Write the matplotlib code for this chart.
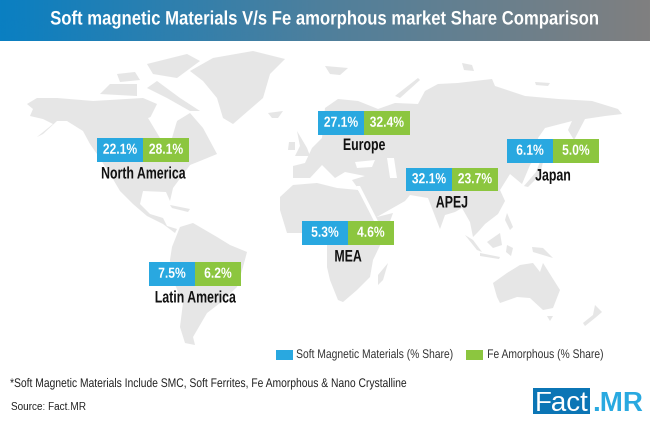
import numpy as np
import matplotlib
matplotlib.use('Agg')
import matplotlib.pyplot as plt
from matplotlib.colors import LinearSegmentedColormap
from matplotlib.patches import Polygon, Rectangle
from matplotlib.patheffects import AbstractPathEffect
from matplotlib.transforms import Affine2D

regions = ['North America', 'Europe', 'Japan', 'APEJ', 'MEA', 'Latin America']
soft_share = [22.1, 27.1, 6.1, 32.1, 5.3, 7.5]
fe_share = [28.1, 32.4, 5.0, 23.7, 4.6, 6.2]
title = 'Soft magnetic Materials V/s Fe amorphous market Share Comparison'
legend_labels = ['Soft Magnetic Materials (% Share)', 'Fe Amorphous (% Share)']
footnote = '*Soft Magnetic Materials Include SMC, Soft Ferrites, Fe Amorphous & Nano Crystalline'
source = 'Source: Fact.MR'

# left edge and top of each pair of tiles, then y of the region name
tile_x = [97, 318, 507, 406, 302, 149]
tile_y = [138, 111, 139, 167.5, 221, 262]
name_y = [174, 145.5, 176, 203, 257, 298]
tile_w = 46
tile_h = 23.5

BLUE = '#29a8e0'
GREEN = '#8cc63f'
LAND = '#e6e6e6'
FONT = 'Liberation Sans'

# backdrop map, rough outlines in picture pixels
land = [
    # north america
    [(27,104),(37,98),(57,98),(93,101),(110,100),(143,98),(157,104),(150,118),(165,138),(177,121),
     (190,113),(203,128),(217,154),(200,161),(190,165),(173,188),(170,201),(166,192),(143,191),
     (140,204),(150,214),(163,218),(167,226),(177,229),(175,233),(163,224),(147,216),(133,204),
     (120,191),(110,174),(97,154),(90,144),(83,131),(67,121),(57,121),(43,134),(37,137),(53,124),
     (43,119),(30,116),(33,109)],
    [(157,81),(180,98),(200,111),(190,111),(167,98),(147,88)],
    [(147,64),(187,54),(200,61),(177,78),(153,74)],
    [(110,84),(137,84),(137,96),(100,94)],
    [(117,74),(135,72),(140,80),(120,82)],
    # greenland, iceland
    [(190,71),(213,58),(253,51),(285,59),(270,74),(263,98),(233,124),(223,118),(217,98),(203,81)],
    [(268,113),(283,111),(278,118),(272,118)],
    # south america
    [(172,247),(180,227),(193,223),(217,237),(230,245),(247,252),(243,267),(237,287),(220,303),
     (207,313),(193,337),(195,345),(185,343),(180,327),(183,303),(173,280),(170,260)],
    # africa
    [(280,210),(280,197),(293,185),(317,183),(337,188),(358,190),(377,217),(393,213),(385,235),
     (373,260),(370,277),(357,290),(343,302),(338,300),(330,280),(327,267),(327,243),(303,233),
     (287,233)],
    [(388,263),(383,280),(378,285),(378,275)],
    # eurasia
    [(293,166),(305,163),(312,148),(322,138),(325,108),(338,99),(358,101),(378,109),(395,103),
     (418,104),(425,91),(438,84),(458,83),(492,79),(495,86),(525,96),(558,99),(592,101),(618,109),
     (622,114),(605,116),(585,119),(574,140),(568,130),(572,121),(545,128),(538,138),(540,150),
     (530,165),(522,184),(510,174),(500,190),(505,201),(498,214),(485,224),(478,232),(473,237),
     (470,222),(462,208),(455,212),(445,215),(440,229),(428,198),(410,195),(405,201),(375,218),
     (362,194),(352,180),(365,176),(345,172),(335,178),(322,165),(310,178),(293,178)],
    [(297,131),(307,148),(310,156),(295,156),(300,146)],
    [(289,142),(295,142),(295,150),(288,150)],
    [(325,66),(348,68),(340,75),(330,74)],
    [(395,96),(418,78),(420,80),(400,98)],
    [(462,63),(472,65),(474,71),(464,70)],
    [(535,82),(550,83),(548,86),(536,85)],
    [(524,186),(536,172),(540,162),(543,162),(540,175),(528,187)],
    # islands and oceania
    [(170,205),(190,209),(188,212),(172,208)],
    [(487,242),(500,233),(502,245),(493,248)],
    [(465,235),(473,240),(482,252),(477,250)],
    [(480,253),(500,257),(499,259),(480,256)],
    [(532,247),(543,248),(553,258),(543,255),(533,252)],
    [(507,213),(513,227),(510,230),(505,220)],
    [(507,245),(513,248),(511,256),(506,252)],
    [(493,283),(507,273),(520,265),(533,263),(540,272),(543,263),(560,290),(553,308),(543,310),
     (530,298),(517,297),(500,303),(497,297)],
    [(547,316),(553,316),(550,321)],
    [(595,305),(602,312),(595,318),(585,326),(583,323),(593,315)],
]
# seas cut out of the land
seas = [
    [(148,118),(165,112),(177,121),(172,138),(160,138)],
    [(355,162),(375,160),(372,167),(357,168)],
    [(387,158),(394,158),(397,178),(390,178)],
    [(356,186),(360,186),(380,225),(376,225)],
]


class Squeeze(AbstractPathEffect):
    # narrows the glyphs, the fonts here have no condensed cut
    def __init__(self, sx, left=False):
        super().__init__()
        self.sx = sx
        self.left = left

    def draw_path(self, renderer, gc, tpath, affine, rgbFace=None):
        box = tpath.get_extents()
        x0 = box.x0 if self.left else (box.x0 + box.x1) / 2
        narrow = Affine2D().translate(-x0, 0).scale(self.sx, 1).translate(x0, 0)
        renderer.draw_path(gc, tpath, narrow + affine, rgbFace)


fig = plt.figure(figsize=(6.5, 4.26), dpi=100)
ax = fig.add_axes([0, 0, 1, 1])

for shape in land:
    ax.add_patch(Polygon(shape, closed=True, fc=LAND, ec='none', zorder=1))
for shape in seas:
    ax.add_patch(Polygon(shape, closed=True, fc='white', ec='none', zorder=1.5))

# header band
band = LinearSegmentedColormap.from_list('band', ['#0a7fc2', '#4f7f9c', '#808080'])
ax.imshow(np.linspace(0, 1, 256).reshape(1, -1), cmap=band, extent=(0, 650, 41, 0),
          aspect='auto', zorder=2)
ax.set_xlim(0, 650)
ax.set_ylim(426, 0)
ax.axis('off')
ax.text(325.5, 20, title, color='white', fontsize=14, fontweight='bold', family=FONT,
        ha='center', va='center', zorder=3, path_effects=[Squeeze(0.858)])

for name, soft, fe, x, y, ny in zip(regions, soft_share, fe_share, tile_x, tile_y, name_y):
    ax.add_patch(Rectangle((x, y), tile_w, tile_h, fc=BLUE, ec='none', zorder=3))
    ax.add_patch(Rectangle((x + tile_w, y), tile_w, tile_h, fc=GREEN, ec='none', zorder=3))
    ax.text(x + tile_w / 2, y + tile_h / 2, f'{soft:.1f}%', color='white', fontsize=10.5,
            fontweight='bold', family=FONT, ha='center', va='center', zorder=4,
            path_effects=[Squeeze(0.83)])
    ax.text(x + tile_w * 1.5, y + tile_h / 2, f'{fe:.1f}%', color='white', fontsize=10.5,
            fontweight='bold', family=FONT, ha='center', va='center', zorder=4,
            path_effects=[Squeeze(0.83)])
    ax.text(x + tile_w, ny, name, color='#111111', fontsize=12, fontweight='bold',
            family=FONT, ha='center', va='center', zorder=4, path_effects=[Squeeze(0.74)])

# legend
ax.add_patch(Rectangle((276, 350), 17, 10, fc=BLUE, ec='none'))
ax.add_patch(Rectangle((466, 350), 17, 10, fc=GREEN, ec='none'))
ax.text(296, 355, legend_labels[0], color='#333333', fontsize=9, family=FONT, ha='left',
        va='center', path_effects=[Squeeze(0.825, left=True)])
ax.text(487, 355, legend_labels[1], color='#333333', fontsize=9, family=FONT, ha='left',
        va='center', path_effects=[Squeeze(0.825, left=True)])

ax.text(10, 384, footnote, color='#222222', fontsize=9, family=FONT, ha='left', va='center',
        path_effects=[Squeeze(0.825, left=True)])
ax.text(11, 407, source, color='#222222', fontsize=7.2, family=FONT, ha='left', va='center')

# Fact.MR logo
ax.add_patch(Rectangle((533, 388), 57, 26, fc='#0b75b5', ec='none', zorder=3))
ax.text(561.5, 411, 'Fact', color='white', fontsize=20, family=FONT,
        ha='center', va='baseline', zorder=4)
ax.text(592, 411, '.MR', color='#29a9e0', fontsize=20, fontweight='bold',
        family=FONT, ha='left', va='baseline', zorder=4)

fig.savefig('out.png', dpi=100)
